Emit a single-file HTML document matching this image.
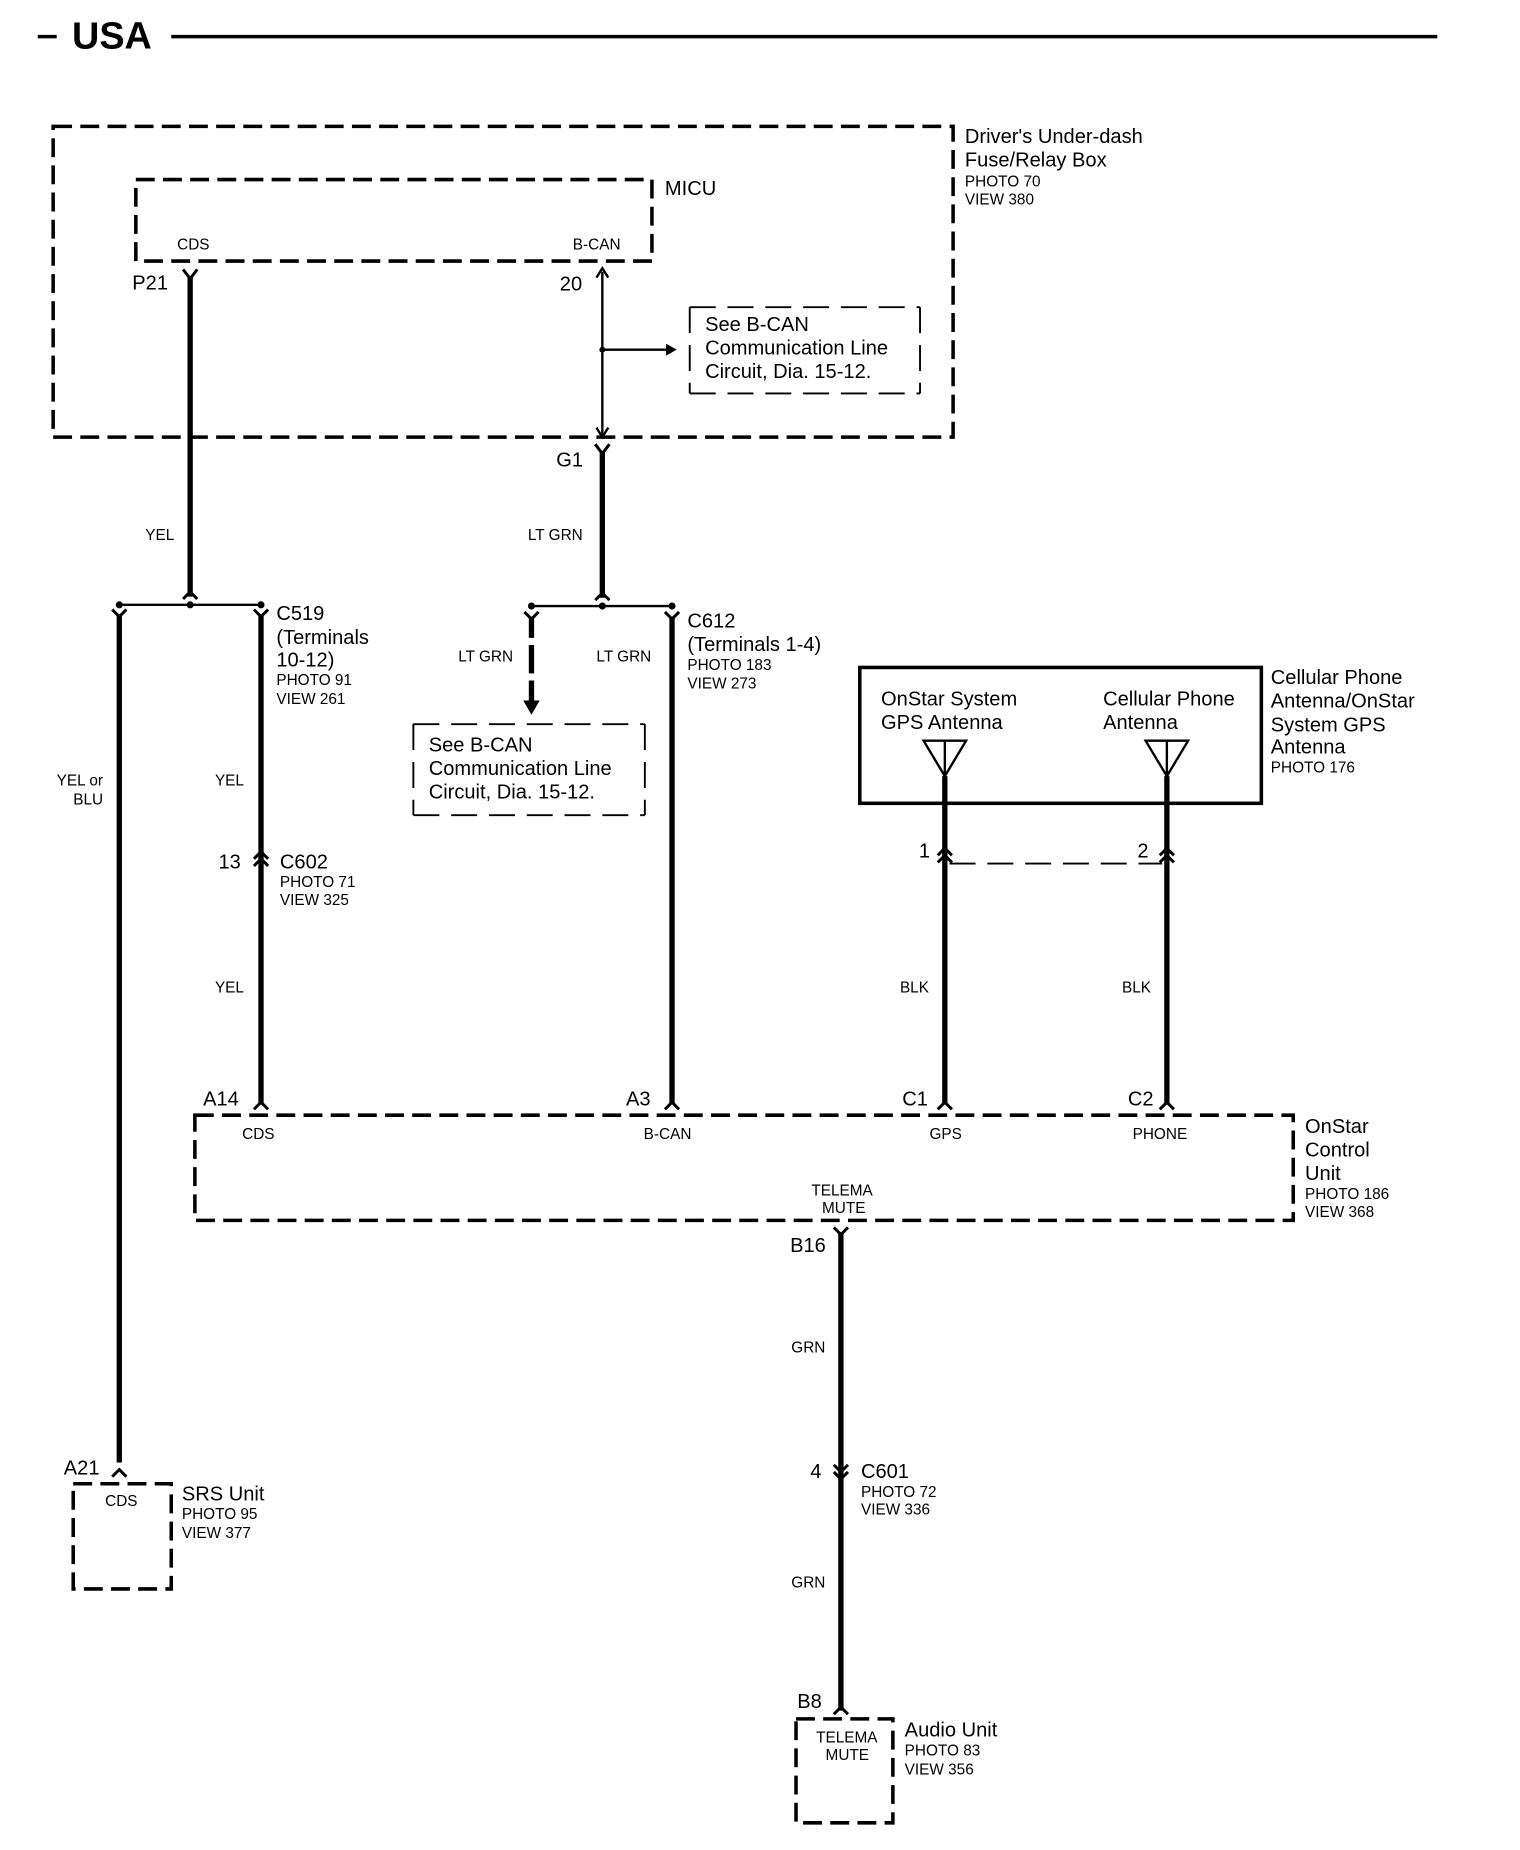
<!DOCTYPE html>
<html><head><meta charset="utf-8"><style>
html,body{margin:0;padding:0;background:#fff;}
svg{display:block;}
text{font-family:"Liberation Sans",Arial,sans-serif;fill:#000;}
.l{font-size:17px;}
.s{font-size:13px;}
.w{stroke:#000;stroke-width:4.5;fill:none;}
.t{stroke:#000;stroke-width:2;fill:none;}
.d{stroke:#000;stroke-width:3;fill:none;stroke-dasharray:16 7;}
.dt{stroke:#000;stroke-width:1.6;fill:none;stroke-dasharray:22 10;}
.c{stroke:#000;stroke-width:2.5;fill:none;}
</style></head><body>
<svg width="1520" height="1850" viewBox="0 0 1287 1566" preserveAspectRatio="none" xmlns="http://www.w3.org/2000/svg">
<!-- title -->
<line x1="32" y1="31" x2="48" y2="31" stroke="#000" stroke-width="3"/>
<text x="61" y="41" style="font-size:32px;font-weight:bold">USA</text>
<line x1="145" y1="31" x2="1217" y2="31" stroke="#000" stroke-width="3"/>

<!-- outer box -->
<rect x="45" y="107" width="762" height="263" class="d"/>
<text x="817" y="121" class="l">Driver's Under-dash</text>
<text x="817" y="141" class="l">Fuse/Relay Box</text>
<text x="817" y="158" class="s">PHOTO 70</text>
<text x="817" y="173" class="s">VIEW 380</text>

<!-- MICU -->
<rect x="115" y="152" width="437" height="69" class="d"/>
<text x="563" y="165" class="l">MICU</text>
<text x="150" y="211" class="s">CDS</text>
<text x="485" y="211" class="s">B-CAN</text>
<text x="112" y="245" class="l">P21</text>
<path d="M155 228 L161 236 L167 228" class="c"/>
<line x1="161" y1="234" x2="161" y2="505" class="w"/>
<text x="474" y="246" class="l">20</text>
<line x1="510" y1="230" x2="510" y2="368" class="t" stroke-width="1.5"/>
<path d="M505 235 L510 227 L515 235" class="t" stroke-width="1.5"/>
<path d="M505 362 L510 370 L515 362" class="t" stroke-width="1.5"/>
<circle cx="510" cy="296" r="2.5"/>
<line x1="510" y1="296" x2="566" y2="296" class="t" stroke-width="1.5"/>
<path d="M564 291 L573 296 L564 301 Z"/>
<path d="M584 260 H779 M584 333 H779 M584 260 V333 M779 260 V333" class="dt"/>
<text x="597" y="280" class="l">See B-CAN</text>
<text x="597" y="300" class="l">Communication Line</text>
<text x="597" y="320" class="l">Circuit, Dia. 15-12.</text>

<text x="471" y="395" class="l">G1</text>
<path d="M504 376 L510 384 L516 376" class="c"/>
<line x1="510" y1="382" x2="510" y2="506" class="w"/>
<text x="123" y="457" class="s">YEL</text>
<text x="447" y="457" class="s">LT GRN</text>

<!-- C519 junction -->
<line x1="101" y1="512" x2="221" y2="512" class="t"/>
<path d="M155 507 L161 501 L167 507" class="c"/>
<circle cx="161" cy="512" r="3"/><circle cx="101" cy="512" r="3"/><circle cx="221" cy="512" r="3"/>
<path d="M95 516 L101 522 L107 516" class="c"/>
<path d="M215 516 L221 522 L227 516" class="c"/>
<line x1="101" y1="520" x2="101" y2="1238" class="w"/>
<line x1="221" y1="520" x2="221" y2="935" class="w"/>
<text x="234" y="525" class="l">C519</text>
<text x="234" y="545" class="l">(Terminals</text>
<text x="234" y="564" class="l">10-12)</text>
<text x="234" y="580" class="s">PHOTO 91</text>
<text x="234" y="596" class="s">VIEW 261</text>
<text x="48" y="665" class="s">YEL or</text>
<text x="62" y="681" class="s">BLU</text>
<text x="182" y="665" class="s">YEL</text>
<text x="185" y="735" class="l">13</text>
<path d="M215 727 L221 721 L227 727 M215 733 L221 727 L227 733" class="c"/>
<text x="237" y="735" class="l">C602</text>
<text x="237" y="751" class="s">PHOTO 71</text>
<text x="237" y="766" class="s">VIEW 325</text>
<text x="182" y="840" class="s">YEL</text>

<!-- C612 junction -->
<line x1="450" y1="513" x2="569" y2="513" class="t"/>
<path d="M504 508 L510 502 L516 508" class="c"/>
<circle cx="510" cy="513" r="3"/><circle cx="450" cy="513" r="3"/><circle cx="569" cy="513" r="3"/>
<path d="M444 518 L450 524 L456 518" class="c"/>
<path d="M563 518 L569 524 L575 518" class="c"/>
<path d="M450 522 V540 M450 546 V570 M450 576 V595" class="w"/>
<path d="M443 593 L450 605 L457 593 Z"/>
<line x1="569" y1="522" x2="569" y2="935" class="w"/>
<text x="388" y="560" class="s">LT GRN</text>
<text x="505" y="560" class="s">LT GRN</text>
<path d="M350 613 H546 M350 690 H546 M350 613 V690 M546 613 V690" class="dt"/>
<text x="363" y="636" class="l">See B-CAN</text>
<text x="363" y="656" class="l">Communication Line</text>
<text x="363" y="676" class="l">Circuit, Dia. 15-12.</text>
<text x="582" y="531" class="l">C612</text>
<text x="582" y="551" class="l">(Terminals 1-4)</text>
<text x="582" y="567" class="s">PHOTO 183</text>
<text x="582" y="583" class="s">VIEW 273</text>

<!-- antenna -->
<rect x="728" y="565" width="340" height="115" fill="none" stroke="#000" stroke-width="3"/>
<text x="746" y="597" class="l">OnStar System</text>
<text x="746" y="617" class="l">GPS Antenna</text>
<text x="934" y="597" class="l">Cellular Phone</text>
<text x="934" y="617" class="l">Antenna</text>
<path d="M782 627 H818 L800 657 Z M800 627 V657" class="t" stroke-width="2.5"/>
<path d="M970 627 H1006 L988 657 Z M988 627 V657" class="t" stroke-width="2.5"/>
<line x1="800" y1="657" x2="800" y2="935" class="w"/>
<line x1="988" y1="657" x2="988" y2="935" class="w"/>
<text x="1076" y="579" class="l">Cellular Phone</text>
<text x="1076" y="599" class="l">Antenna/OnStar</text>
<text x="1076" y="619" class="l">System GPS</text>
<text x="1076" y="638" class="l">Antenna</text>
<text x="1076" y="654" class="s">PHOTO 176</text>
<path d="M794 724 L800 718 L806 724 M794 730 L800 724 L806 730" class="c"/>
<path d="M982 724 L988 718 L994 724 M982 730 L988 724 L994 730" class="c"/>
<text x="778" y="726" class="l">1</text>
<text x="963" y="726" class="l">2</text>
<line x1="804" y1="731" x2="984" y2="731" class="dt"/>
<text x="762" y="840" class="s">BLK</text>
<text x="950" y="840" class="s">BLK</text>

<!-- OnStar control unit -->
<path d="M215 939 L221 933 L227 939" class="c"/>
<path d="M563 939 L569 933 L575 939" class="c"/>
<path d="M794 939 L800 933 L806 939" class="c"/>
<path d="M982 939 L988 933 L994 939" class="c"/>
<rect x="165" y="944" width="930" height="89" class="d"/>
<text x="172" y="936" class="l">A14</text>
<text x="530" y="936" class="l">A3</text>
<text x="764" y="936" class="l">C1</text>
<text x="955" y="936" class="l">C2</text>
<text x="205" y="964" class="s">CDS</text>
<text x="545" y="964" class="s">B-CAN</text>
<text x="787" y="964" class="s">GPS</text>
<text x="959" y="964" class="s">PHONE</text>
<text x="687" y="1012" class="s">TELEMA</text>
<text x="696" y="1027" class="s">MUTE</text>
<text x="1105" y="959" class="l">OnStar</text>
<text x="1105" y="979" class="l">Control</text>
<text x="1105" y="999" class="l">Unit</text>
<text x="1105" y="1015" class="s">PHOTO 186</text>
<text x="1105" y="1030" class="s">VIEW 368</text>

<!-- audio wire -->
<path d="M706 1039 L712 1045 L718 1039" class="c"/>
<line x1="712" y1="1043" x2="712" y2="1448" class="w"/>
<text x="669" y="1060" class="l">B16</text>
<text x="670" y="1145" class="s">GRN</text>
<path d="M706 1240 L712 1246 L718 1240 M706 1246 L712 1252 L718 1246" class="c"/>
<text x="686" y="1251" class="l">4</text>
<text x="729" y="1251" class="l">C601</text>
<text x="729" y="1267" class="s">PHOTO 72</text>
<text x="729" y="1282" class="s">VIEW 336</text>
<text x="670" y="1344" class="s">GRN</text>
<text x="675" y="1446" class="l">B8</text>
<path d="M706 1451 L712 1445 L718 1451" class="c"/>
<rect x="674" y="1455" width="82" height="88" class="d"/>
<text x="691" y="1475" class="s">TELEMA</text>
<text x="699" y="1490" class="s">MUTE</text>
<text x="766" y="1470" class="l">Audio Unit</text>
<text x="766" y="1486" class="s">PHOTO 83</text>
<text x="766" y="1502" class="s">VIEW 356</text>

<!-- SRS -->
<path d="M95 1250 L101 1244 L107 1250" class="c"/>
<text x="54" y="1248" class="l">A21</text>
<rect x="62" y="1256" width="83" height="89" class="d"/>
<text x="89" y="1275" class="s">CDS</text>
<text x="154" y="1270" class="l">SRS Unit</text>
<text x="154" y="1286" class="s">PHOTO 95</text>
<text x="154" y="1302" class="s">VIEW 377</text>
</svg>
</body></html>
